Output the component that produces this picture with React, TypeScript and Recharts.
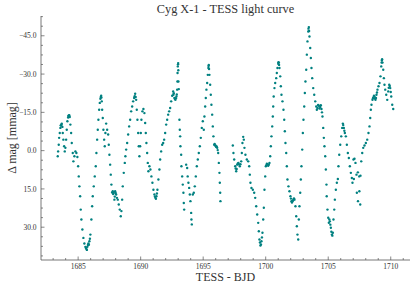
import React from 'react';
import { ScatterChart, Scatter, XAxis, YAxis } from 'recharts';

// TESS light curve of Cyg X-1, [BJD, delta mag in mmag]
const orbit1: [number, number][] = [
    [1683.37, 2.2], [1683.40, 0.3], [1683.45, -2.3], [1683.48, -5.0], [1683.53, -6.9], [1683.58, -8.9],
    [1683.61, -9.9], [1683.64, -9.8], [1683.67, -10.2], [1683.69, -10.6], [1683.74, -9.3], [1683.77, -6.9],
    [1683.82, -4.3], [1683.88, -1.7], [1683.93, 0.3], [1683.98, -1.1], [1684.04, -4.3], [1684.09, -8.2],
    [1684.14, -11.5], [1684.20, -13.0], [1684.22, -13.6], [1684.25, -13.8], [1684.29, -13.9], [1684.33, -13.2],
    [1684.38, -10.2], [1684.44, -6.9], [1684.49, -3.0], [1684.57, 0.9], [1684.62, 4.2], [1684.70, 2.2],
    [1684.78, 0.3], [1684.86, 0.9], [1684.94, 2.5], [1685.00, 6.1], [1685.05, 10.1], [1685.10, 14.0],
    [1685.16, 17.9], [1685.21, 23.1], [1685.26, 27.0], [1685.34, 30.9], [1685.42, 34.2], [1685.50, 36.4],
    [1685.58, 37.7], [1685.62, 38.1], [1685.66, 38.5], [1685.70, 38.9], [1685.74, 37.7], [1685.78, 37.0],
    [1685.82, 36.4], [1685.86, 36.9], [1685.90, 35.5], [1685.94, 34.5], [1685.98, 32.9], [1686.06, 27.0],
    [1686.12, 21.8], [1686.17, 17.9], [1686.25, 14.0], [1686.33, 10.1], [1686.41, 6.1], [1686.46, 0.9],
    [1686.52, -4.3], [1686.57, -8.2], [1686.62, -12.1], [1686.68, -16.0], [1686.73, -18.7], [1686.78, -20.3],
    [1686.81, -21.0], [1686.84, -21.5], [1686.86, -20.8], [1686.89, -19.3], [1686.92, -16.0], [1686.97, -12.8],
    [1687.02, -8.2], [1687.08, -4.3], [1687.13, -1.7], [1687.18, -6.9], [1687.24, -10.6], [1687.32, -8.2],
    [1687.40, -6.3], [1687.45, -2.3], [1687.50, 1.6], [1687.56, 5.5], [1687.61, 9.4], [1687.66, 13.3],
    [1687.72, 16.4], [1687.77, 15.9], [1687.80, 17.0], [1687.85, 16.5], [1687.90, 19.2], [1687.93, 18.0],
    [1687.96, 15.9], [1688.00, 16.6], [1688.04, 17.2], [1688.10, 18.5], [1688.17, 19.2], [1688.25, 21.1],
    [1688.33, 23.1], [1688.41, 25.7], [1688.46, 23.7], [1688.52, 19.2], [1688.57, 14.0], [1688.65, 8.7],
    [1688.73, 4.8], [1688.78, 2.2], [1688.84, -0.4], [1688.92, -3.0], [1689.00, -6.3], [1689.08, -9.5],
    [1689.16, -12.1], [1689.24, -15.4], [1689.32, -17.3], [1689.40, -19.3], [1689.48, -20.6], [1689.52, -21.3],
    [1689.56, -22.3], [1689.60, -21.0], [1689.64, -19.9], [1689.69, -16.0], [1689.74, -12.1], [1689.80, -6.9],
    [1689.85, -1.7], [1689.90, 2.2], [1689.96, -1.7], [1690.01, -6.9], [1690.06, -12.1], [1690.14, -15.4],
    [1690.22, -16.3], [1690.30, -14.7], [1690.36, -10.8], [1690.41, -6.9], [1690.46, -3.0], [1690.52, 0.9],
    [1690.57, 4.8], [1690.62, 8.1], [1690.70, 6.1], [1690.78, 7.4], [1690.86, 10.1], [1690.94, 12.6],
    [1691.02, 15.3], [1691.10, 17.2], [1691.14, 18.0], [1691.18, 18.5], [1691.22, 18.9], [1691.26, 17.9],
    [1691.30, 16.8], [1691.34, 15.3], [1691.42, 11.3], [1691.50, 7.4], [1691.56, 3.5], [1691.64, 0.3],
    [1691.72, -2.3], [1691.80, -3.0], [1691.88, -4.3], [1691.96, -6.9], [1692.04, -10.2], [1692.12, -12.1],
    [1692.20, -14.1], [1692.28, -15.4], [1692.36, -16.7], [1692.44, -19.3], [1692.52, -21.5], [1692.60, -23.2],
    [1692.62, -21.9], [1692.65, -22.5], [1692.70, -20.6], [1692.74, -20.2], [1692.78, -19.9], [1692.82, -20.5],
    [1692.86, -21.2], [1692.89, -22.0], [1692.92, -23.9], [1692.94, -27.1], [1692.95, -30.4], [1692.97, -33.0],
    [1692.99, -33.8], [1693.00, -34.3], [1693.01, -31.5], [1693.02, -27.1], [1693.05, -24.1], [1693.10, -12.1],
    [1693.13, -8.2], [1693.16, -5.6], [1693.18, -1.7], [1693.24, 1.6], [1693.26, 6.1], [1693.32, 10.1],
    [1693.37, 13.3], [1693.42, 16.5], [1693.45, 20.5], [1693.48, 23.1], [1693.64, 5.5], [1693.72, 6.8],
    [1693.76, 10.1], [1693.82, 12.6], [1693.88, 14.6], [1693.93, 17.2], [1693.98, 19.8], [1694.04, 24.4],
    [1694.06, 27.0], [1694.09, 28.9], [1694.17, 17.2], [1694.25, 16.5], [1694.33, 14.0], [1694.41, 10.1],
    [1694.49, 6.1], [1694.57, 3.5], [1694.65, 0.9], [1694.73, -1.7], [1694.81, -5.0], [1694.89, -8.9],
    [1694.97, -11.5], [1695.05, -8.2], [1695.10, -13.4], [1695.16, -17.3], [1695.21, -20.6], [1695.26, -23.9],
    [1695.32, -26.5], [1695.37, -29.7], [1695.42, -32.4], [1695.43, -33.2], [1695.45, -33.6], [1695.47, -32.0],
    [1695.50, -29.7], [1695.56, -25.8], [1695.61, -21.9], [1695.66, -18.0], [1695.72, -14.1], [1695.77, -9.5],
    [1695.82, -5.6], [1695.88, -2.3], [1695.92, -2.6], [1695.96, -2.0], [1696.00, -1.9], [1696.04, -1.4],
    [1696.08, -1.6], [1696.12, -1.1], [1696.16, -0.2], [1696.20, 0.9], [1696.25, 4.8], [1696.30, 8.7],
    [1696.33, 12.6], [1696.36, 16.5], [1696.38, 19.8],
];

const orbit2: [number, number][] = [
    [1697.37, -2.0], [1697.42, 0.9], [1697.48, 3.5], [1697.56, 6.1], [1697.60, 7.0], [1697.64, 8.1],
    [1697.68, 7.2], [1697.72, 5.5], [1697.77, 5.0], [1697.82, 4.8], [1697.87, 5.4], [1697.93, 6.1],
    [1697.98, 5.3], [1698.04, 4.2], [1698.09, 0.9], [1698.14, -3.0], [1698.20, -5.4], [1698.25, -4.3],
    [1698.30, -1.1], [1698.38, 1.6], [1698.49, 3.5], [1698.60, 4.2], [1698.68, 6.1], [1698.73, 9.4],
    [1698.78, 12.6], [1698.86, 14.6], [1698.97, 15.3], [1699.08, 16.5], [1699.16, 18.5], [1699.24, 21.8],
    [1699.32, 25.0], [1699.40, 28.3], [1699.45, 31.6], [1699.50, 34.8], [1699.54, 36.0], [1699.58, 37.2],
    [1699.62, 36.8], [1699.66, 35.5], [1699.70, 34.0], [1699.74, 32.2], [1699.80, 27.0], [1699.85, 22.4],
    [1699.90, 15.3], [1699.96, 10.1], [1700.01, 6.1], [1700.05, 5.7], [1700.09, 5.1], [1700.14, 5.3],
    [1700.20, 5.9], [1700.25, 5.5], [1700.30, 4.8], [1700.36, 2.2], [1700.41, -1.7], [1700.46, -5.6],
    [1700.52, -9.5], [1700.57, -13.4], [1700.60, -17.3], [1700.64, -21.2], [1700.70, -24.5], [1700.76, -26.5],
    [1700.84, -28.4], [1700.89, -30.4], [1700.94, -32.4], [1701.00, -34.0], [1701.02, -34.6], [1701.05, -34.5],
    [1701.07, -33.6], [1701.10, -32.4], [1701.16, -29.1], [1701.21, -25.2], [1701.26, -21.9], [1701.34, -19.3],
    [1701.42, -16.0], [1701.48, -12.1], [1701.53, -7.6], [1701.58, -3.0], [1701.64, 0.9], [1701.69, 6.1],
    [1701.74, 11.3], [1701.82, 14.0], [1701.90, 15.9], [1701.98, 17.9], [1702.02, 18.8], [1702.06, 19.8],
    [1702.10, 20.3], [1702.14, 19.8], [1702.18, 19.5], [1702.22, 19.2], [1702.26, 18.7], [1702.30, 19.2],
    [1702.38, 21.8], [1702.44, 25.7], [1702.49, 29.6], [1702.54, 32.9], [1702.60, 34.8], [1702.65, 27.0],
    [1702.70, 21.8], [1702.76, 16.5], [1702.81, 11.3], [1702.86, 6.1], [1702.92, -0.4], [1702.97, -6.9],
    [1703.02, -12.1], [1703.08, -17.3], [1703.13, -22.6], [1703.18, -27.1], [1703.24, -31.7], [1703.29, -37.6],
    [1703.34, -42.8], [1703.40, -46.7], [1703.42, -47.8], [1703.45, -48.4], [1703.47, -46.9], [1703.50, -44.7],
    [1703.56, -40.2], [1703.61, -36.3], [1703.66, -32.4], [1703.72, -28.4], [1703.80, -24.5], [1703.88, -21.9],
    [1703.96, -19.3], [1704.04, -17.3], [1704.09, -16.0], [1704.14, -16.7], [1704.19, -17.9], [1704.25, -17.6],
    [1704.30, -16.5], [1704.36, -17.1], [1704.41, -17.8], [1704.46, -16.3], [1704.50, -15.0], [1704.54, -13.4],
    [1704.60, -8.9], [1704.65, -5.0], [1704.70, -1.7], [1704.76, 2.2], [1704.81, 7.4], [1704.86, 13.3],
    [1704.88, 17.9], [1704.94, 23.1], [1705.00, 26.3], [1705.05, 28.3], [1705.09, 27.0], [1705.13, 27.7],
    [1705.17, 29.0], [1705.21, 30.2], [1705.25, 31.8], [1705.29, 32.9], [1705.33, 33.3], [1705.37, 32.2],
    [1705.42, 27.0], [1705.48, 23.1], [1705.53, 19.2], [1705.61, 15.3], [1705.69, 12.6], [1705.77, 11.1],
    [1705.82, 6.1], [1705.88, 1.6], [1705.96, -2.3], [1706.04, -5.6], [1706.12, -8.9], [1706.17, -10.6],
    [1706.20, -10.0], [1706.25, -8.9], [1706.29, -7.8], [1706.33, -6.9], [1706.41, -5.6], [1706.49, -2.3],
    [1706.57, 0.9], [1706.65, 2.9], [1706.73, 6.1], [1706.81, 8.7], [1706.89, 10.7], [1706.94, 12.6],
    [1707.02, 3.5], [1707.05, 11.1], [1707.10, 3.2], [1707.18, 4.8], [1707.26, 9.4], [1707.29, 16.5],
    [1707.37, 8.5], [1707.38, 19.8], [1707.48, 10.1], [1707.49, 15.9], [1707.56, 21.1], [1707.58, 9.8],
    [1707.64, 4.2], [1707.72, 0.9], [1707.80, -1.1], [1707.90, -2.0], [1708.01, -3.0], [1708.12, -4.3],
    [1708.22, -6.9], [1708.30, -9.5], [1708.36, -12.8], [1708.41, -16.0], [1708.46, -18.0], [1708.54, -19.9],
    [1708.58, -20.5], [1708.62, -20.9], [1708.66, -21.5], [1708.70, -21.2], [1708.74, -20.4], [1708.78, -19.9],
    [1708.82, -20.6], [1708.86, -21.9], [1708.90, -22.8], [1708.94, -23.9], [1709.02, -25.2], [1709.10, -26.5],
    [1709.18, -29.1], [1709.24, -33.0], [1709.27, -34.5], [1709.29, -35.3], [1709.31, -35.8], [1709.34, -34.5],
    [1709.40, -31.7], [1709.45, -28.4], [1709.50, -25.8], [1709.56, -23.9], [1709.64, -21.9], [1709.72, -19.9],
    [1709.80, -23.2], [1709.84, -24.6], [1709.88, -25.8], [1709.92, -25.3], [1709.96, -24.5], [1710.00, -23.0],
    [1710.04, -21.2], [1710.12, -18.0], [1710.20, -16.3],
];

const xTicks = [
    1683, 1684, 1685, 1686, 1687, 1688, 1689, 1690, 1691, 1692, 1693, 1694, 1695, 1696, 1697,
    1698, 1699, 1700, 1701, 1702, 1703, 1704, 1705, 1706, 1707, 1708, 1709, 1710, 1711,
];
const xMajor = [1685, 1690, 1695, 1700, 1705, 1710];
const yTicks = [
    -52.5, -48.75, -45, -41.25, -37.5, -33.75, -30, -26.25, -22.5, -18.75, -15, -11.25, -7.5, -3.75,
    0, 3.75, 7.5, 11.25, 15, 18.75, 22.5, 26.25, 30, 33.75, 37.5, 41.25,
];
const yMajor = [-45, -30, -15, 0, 15, 30];

const data = [...orbit1, ...orbit2].map(([t, m]) => ({ t, m }));

const FONT = '"Liberation Serif", "DejaVu Serif", serif';
const AXIS = '#555';
const TEXT = '#333';

const fmtY = (v: number) => v.toFixed(1).replace('-', '\u2212');

const XTick = (props: any) => {
    const { x, y, payload, side } = props;
    const v = payload.value;
    const major = xMajor.includes(v);
    const len = major ? 3.5 : 2;
    const dir = side === 'bottom' ? -1 : 1;
    return (
        <g>
            <line x1={x} y1={y} x2={x} y2={y + dir * len} stroke={AXIS} strokeWidth={0.7} />
            {major && side === 'bottom' && (
                <text x={x} y={y + 8.5} textAnchor="middle" fontSize={7.5} fontFamily={FONT} fill={TEXT}>
                    {v}
                </text>
            )}
        </g>
    );
};

const YTick = (props: any) => {
    const { x, y, payload, side } = props;
    const v = payload.value;
    const major = yMajor.includes(v);
    const len = major ? 3.5 : 2;
    const dir = side === 'left' ? 1 : -1;
    return (
        <g>
            <line x1={x} y1={y} x2={x + dir * len} y2={y} stroke={AXIS} strokeWidth={0.7} />
            {major && side === 'left' && (
                <text x={x - 4.5} y={y + 2.6} textAnchor="end" fontSize={7.5} fontFamily={FONT} fill={TEXT}>
                    {fmtY(v)}
                </text>
            )}
        </g>
    );
};

const Dot = (props: any) => <circle cx={props.cx} cy={props.cy} r={1.2} fill="#008080" />;

export default function App() {
    const xDomain: [number, number] = [1682.03, 1711.54];
    const yDomain: [number, number] = [-52.75, 42.85];
    return (
        <div style={{ position: 'absolute', left: 0, top: 0, width: 415, height: 288, background: '#fff' }}>
            <ScatterChart width={415} height={288} margin={{ top: 16, right: 5, bottom: 0, left: 0 }}>
                <XAxis
                    xAxisId="b"
                    dataKey="t"
                    type="number"
                    domain={xDomain}
                    allowDataOverflow
                    ticks={xTicks}
                    interval={0}
                    height={28}
                    tickSize={0}
                    tickMargin={0}
                    stroke={AXIS}
                    strokeWidth={0.8}
                    tick={(p: any) => <XTick {...p} side="bottom" />}
                />
                <XAxis
                    xAxisId="t"
                    dataKey="t"
                    type="number"
                    orientation="top"
                    domain={xDomain}
                    allowDataOverflow
                    ticks={xTicks}
                    interval={0}
                    height={0}
                    tickSize={0}
                    tickMargin={0}
                    stroke={AXIS}
                    strokeWidth={0.8}
                    tick={(p: any) => <XTick {...p} side="top" />}
                />
                <YAxis
                    yAxisId="l"
                    dataKey="m"
                    type="number"
                    domain={yDomain}
                    allowDataOverflow
                    reversed
                    ticks={yTicks}
                    interval={0}
                    width={41}
                    tickSize={0}
                    tickMargin={0}
                    stroke={AXIS}
                    strokeWidth={0.8}
                    tick={(p: any) => <YTick {...p} side="left" />}
                />
                <YAxis
                    yAxisId="r"
                    dataKey="m"
                    type="number"
                    orientation="right"
                    domain={yDomain}
                    allowDataOverflow
                    reversed
                    ticks={yTicks}
                    interval={0}
                    width={0}
                    tickSize={0}
                    tickMargin={0}
                    stroke={AXIS}
                    strokeWidth={0.8}
                    tick={(p: any) => <YTick {...p} side="right" />}
                />
                <Scatter
                    data={data}
                    xAxisId="b"
                    yAxisId="l"
                    shape={Dot}
                    isAnimationActive={false}
                />
            </ScatterChart>
            <svg
                width={415}
                height={288}
                style={{ position: 'absolute', left: 0, top: 0, pointerEvents: 'none' }}
            >
                <text x={225.5} y={12.8} textAnchor="middle" fontSize={12.3} fontFamily={FONT} fill={TEXT}>
                    Cyg X-1 - TESS light curve
                </text>
                <text x={225.5} y={280.5} textAnchor="middle" fontSize={12} fontFamily={FONT} fill={TEXT}>
                    TESS - BJD
                </text>
                <text
                    x={0}
                    y={0}
                    transform="translate(15.5,138) rotate(-90)"
                    textAnchor="middle"
                    fontSize={12}
                    fontFamily={FONT}
                    fill={TEXT}
                >
                    Δ mag [mmag]
                </text>
            </svg>
        </div>
    );
}
